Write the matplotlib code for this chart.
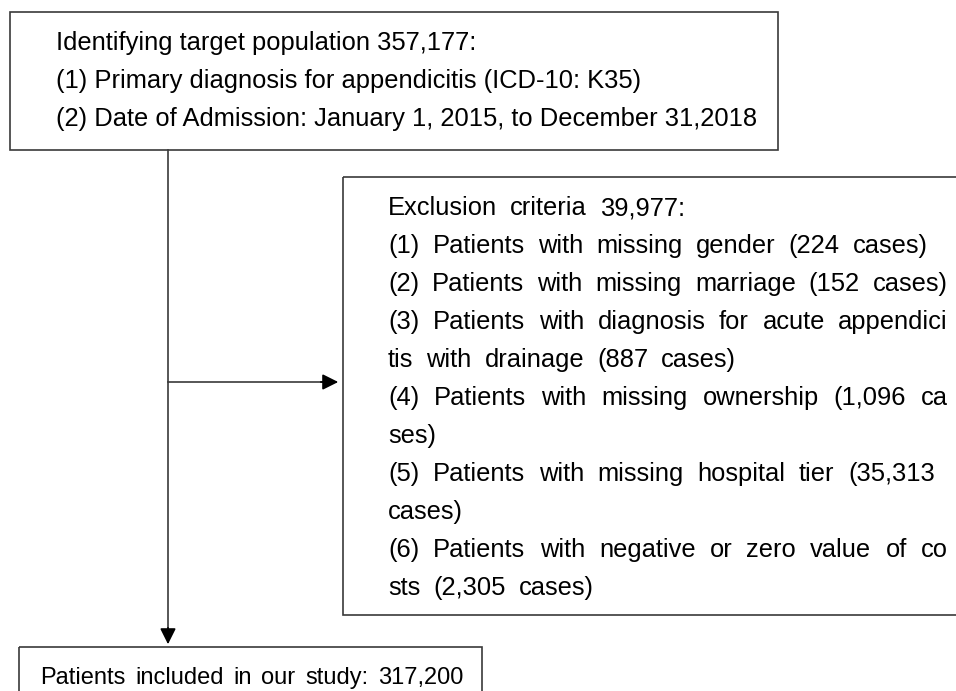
import matplotlib.pyplot as plt
from matplotlib.patches import Rectangle

# flowchart text
top_lines = ["Identifying target population 357,177:",
             "(1) Primary diagnosis for appendicitis (ICD-10: K35)",
             "(2) Date of Admission: January 1, 2015, to December 31,2018"]
excl_lines = ["Exclusion criteria 39,977:",
              "(1) Patients with missing gender (224 cases)",
              "(2) Patients with missing marriage (152 cases)",
              "(3) Patients with diagnosis for acute appendici",
              "tis with drainage (887 cases)",
              "(4) Patients with missing ownership (1,096 ca",
              "ses)",
              "(5) Patients with missing hospital tier (35,313",
              "cases)",
              "(6) Patients with negative or zero value of co",
              "sts (2,305 cases)"]
bottom_line = "Patients included in our study: 317,200"

# right edge of each justified line (None = natural spacing)
excl_right = [None, 928, 948, 948, None, 948, None, 935, None, 948, None]

FS = 18.4
LC = '#3a3a3a'
font = dict(family='Liberation Sans', fontsize=FS, color='black', va='baseline', ha='left')

fig = plt.figure(figsize=(9.56, 6.91), dpi=100)
ax = fig.add_axes([0, 0, 1, 1])
ax.set_xlim(0, 956)
ax.set_ylim(691, 0)
ax.axis('off')
renderer = fig.canvas.get_renderer()


def put_words(line, x0, y, gap=13, right=None, size=FS):
    words = line.split()
    texts = [ax.text(x0, y, w, **{**font, 'fontsize': size}) for w in words]
    widths = [t.get_window_extent(renderer).width for t in texts]
    if right is not None and len(words) > 1:
        gap = (right - x0 - sum(widths)) / (len(words) - 1)
    x = x0
    for t, w in zip(texts, widths):
        t.set_x(x)
        x += w + gap


# boxes
ax.add_patch(Rectangle((10, 12), 768, 138, fill=False, ec=LC, lw=1.2))
ax.add_patch(Rectangle((343, 177), 700, 438, fill=False, ec=LC, lw=1.2, clip_on=True))
ax.add_patch(Rectangle((19, 647), 463, 100, fill=False, ec=LC, lw=1.2, clip_on=True))

# connectors
ax.plot([168, 168], [150, 632], color=LC, lw=1.2)
ax.annotate('', xy=(168, 647), xytext=(168, 625),
            arrowprops=dict(arrowstyle='-|>', color='black', lw=1.2, mutation_scale=24))
ax.plot([168, 330], [382, 382], color=LC, lw=1.2)
ax.annotate('', xy=(341, 382), xytext=(318, 382),
            arrowprops=dict(arrowstyle='-|>', color='black', lw=1.2, mutation_scale=24))

# texts
for i, line in enumerate(top_lines):
    ax.text(56, 50 + 38 * i, line, **font)

for i, line in enumerate(excl_lines):
    put_words(line, 388, 215 + 38 * i, right=excl_right[i])

put_words(bottom_line, 40, 684, right=463, size=17)

fig.savefig("out.png", dpi=100)
